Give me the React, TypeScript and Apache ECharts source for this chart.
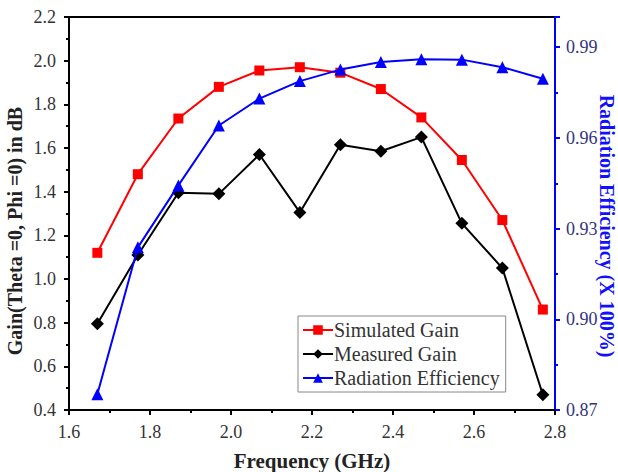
import React, { useEffect, useRef } from "react";
import * as echarts from "echarts";

const freq = [1.67, 1.77, 1.87, 1.97, 2.07, 2.17, 2.27, 2.37, 2.47, 2.57, 2.67, 2.77];
const simulatedGain = [1.12, 1.48, 1.735, 1.88, 1.955, 1.97, 1.945, 1.87, 1.74, 1.545, 1.27, 0.86];
const measuredGain = [0.795, 1.11, 1.395, 1.39, 1.57, 1.305, 1.615, 1.585, 1.65, 1.255, 1.05, 0.47];
const radiationEff = [0.8752, 0.9238, 0.9443, 0.9641, 0.973, 0.9788, 0.9826, 0.9851, 0.986, 0.9859, 0.9834, 0.9796];

const seriesNames = ["Simulated Gain", "Measured Gain", "Radiation Efficiency"];
const xTitle = "Frequency (GHz)";
const yLeftTitle = "Gain(Theta =0, Phi =0) in dB";
const yRightTitle = "Radiation Efficiency (X 100%)";
const FONT = "'Liberation Serif', 'Times New Roman', serif";

export default function App() {
  const ref = useRef<HTMLDivElement>(null);
  useEffect(() => {
    if (!ref.current) return;
    const chart = echarts.init(ref.current, undefined, { renderer: "svg" });
    const pair = (ys: number[]) => freq.map((x, i) => [x, ys[i]]);
    chart.setOption({
      animation: false,
      backgroundColor: "#fff",
      textStyle: { fontFamily: FONT },
      grid: {
        left: 69,
        right: 63,
        top: 17,
        bottom: 62,
        show: true,
        borderColor: "#000",
        borderWidth: 2,
        containLabel: false,
        outerBoundsMode: "none",
      },
      graphic: [
        {
          type: "text",
          x: 312,
          y: 461,
          style: {
            text: xTitle,
            fontFamily: FONT,
            fontSize: 21,
            fontWeight: "bold",
            fill: "#222",
            align: "center",
            verticalAlign: "middle",
          },
        },
        {
          type: "text",
          x: 15,
          y: 231,
          rotation: Math.PI / 2,
          style: {
            text: yLeftTitle,
            fontFamily: FONT,
            fontSize: 20,
            fontWeight: "bold",
            fill: "#222",
            align: "center",
            verticalAlign: "middle",
          },
        },
        {
          type: "text",
          x: 607,
          y: 226,
          rotation: -Math.PI / 2,
          style: {
            text: yRightTitle,
            fontFamily: FONT,
            fontSize: 20,
            fontWeight: "bold",
            fill: "#1010ff",
            align: "center",
            verticalAlign: "middle",
          },
        },
      ],
      legend: {
        orient: "vertical",
        left: 298,
        top: 316,
        width: 204,
        padding: [4, 6, 4, 4],
        itemGap: 4,
        itemWidth: 30,
        itemHeight: 12,
        borderColor: "#888",
        borderWidth: 1,
        backgroundColor: "#fff",
        textStyle: { fontFamily: FONT, fontSize: 20, color: "#333", padding: [0, 0, 0, -4] },
        data: seriesNames,
      },
      xAxis: {
        type: "value",
        min: 1.6,
        max: 2.8,
        interval: 0.2,
        axisLine: { lineStyle: { color: "#000", width: 2 } },
        axisTick: { length: 5, lineStyle: { color: "#000", width: 2 } },
        minorTick: { show: true, splitNumber: 2, length: 3, lineStyle: { color: "#000", width: 2 } },
        splitLine: { show: false },
        axisLabel: {
          fontFamily: FONT,
          fontSize: 18,
          color: "#333",
          margin: 13,
          formatter: (v: number) => v.toFixed(1),
        },
      },
      yAxis: [
        {
          type: "value",
          min: 0.4,
          max: 2.2,
          interval: 0.2,
          position: "left",
          axisLine: { show: true, lineStyle: { color: "#000", width: 2 } },
          axisTick: { show: true, length: 5, lineStyle: { color: "#000", width: 2 } },
          minorTick: { show: true, splitNumber: 2, length: 3, lineStyle: { color: "#000", width: 2 } },
          splitLine: { show: false },
          axisLabel: {
            fontFamily: FONT,
            fontSize: 18,
            color: "#333",
            margin: 13,
            formatter: (v: number) => v.toFixed(1),
          },
        },
        {
          type: "value",
          min: 0.87,
          max: 1.0,
          interval: 0.03,
          position: "right",
          axisLine: { show: true, lineStyle: { color: "#0000ff", width: 2 } },
          axisTick: { show: true, length: 5, lineStyle: { color: "#0000ff", width: 2 } },
          minorTick: { show: true, splitNumber: 2, length: 3, lineStyle: { color: "#0000ff", width: 2 } },
          splitLine: { show: false },
          axisLabel: {
            fontFamily: FONT,
            fontSize: 18,
            color: "#333380",
            margin: 11,
            showMaxLabel: false,
            formatter: (v: number) => (v > 0.995 ? "" : v.toFixed(2)),
          },
        },
      ],
      series: [
        {
          name: seriesNames[0],
          type: "line",
          data: pair(simulatedGain),
          yAxisIndex: 0,
          symbol: "rect",
          symbolSize: 10,
          lineStyle: { color: "#ff0000", width: 2 },
          itemStyle: { color: "#ff0000" },
          z: 3,
        },
        {
          name: seriesNames[1],
          type: "line",
          data: pair(measuredGain),
          yAxisIndex: 0,
          symbol: "diamond",
          symbolSize: [13, 13],
          lineStyle: { color: "#000", width: 2 },
          itemStyle: { color: "#000" },
          z: 2,
        },
        {
          name: seriesNames[2],
          type: "line",
          data: pair(radiationEff),
          yAxisIndex: 1,
          symbol: "triangle",
          symbolSize: 12,
          lineStyle: { color: "#0000ff", width: 2 },
          itemStyle: { color: "#0000ff" },
          z: 4,
        },
      ],
    });
    return () => chart.dispose();
  }, []);
  return <div ref={ref} style={{ width: 618, height: 472, position: "absolute", left: 0, top: 0 }} />;
}
